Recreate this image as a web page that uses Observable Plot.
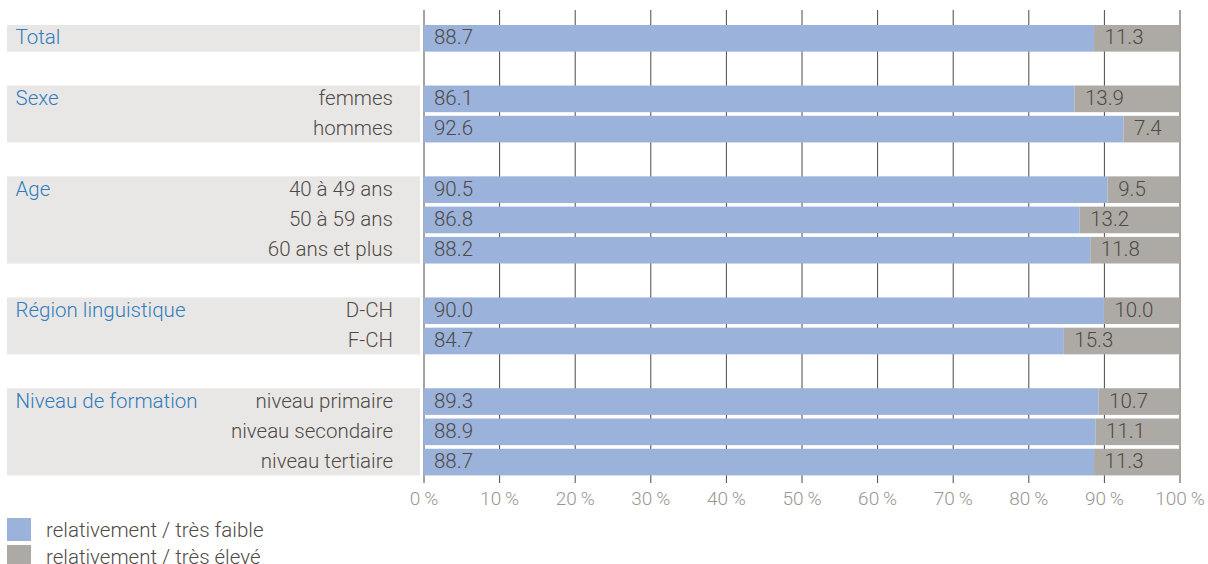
<!DOCTYPE html>
<html>
<head>
<meta charset="utf-8">
<script src="https://cdn.jsdelivr.net/npm/d3@7"></script>
<script src="https://cdn.jsdelivr.net/npm/@observablehq/plot@0.6"></script>
<style>
  html, body { margin: 0; padding: 0; background: #fff; }
  body { width: 1208px; height: 564px; overflow: hidden; font-family: Roboto, "Liberation Sans", sans-serif; font-weight: 300; }
  #legend { margin-top: 8px; }
  .item { display: flex; align-items: center; height: 23px; margin-bottom: 4px; }
  .sw { width: 24px; height: 23px; margin-left: 7px; margin-right: 15px; }
  .lab { font-size: 20.5px; color: #4f4a46; }
</style>
</head>
<body>
<div id="chart"></div>
<div id="legend"></div>
<script>
// ---- data ----
const groups = ["Total", "Sexe", "Age", "Région linguistique", "Niveau de formation"];
const rowKeys = ["Total", "femmes", "hommes", "40 à 49 ans", "50 à 59 ans", "60 ans et plus", "D-CH", "F-CH", "niveau primaire", "niveau secondaire", "niveau tertiaire"];
const rowLabels = ["", "femmes", "hommes", "40 à 49 ans", "50 à 59 ans", "60 ans et plus", "D-CH", "F-CH", "niveau primaire", "niveau secondaire", "niveau tertiaire"];
const rowGroup = ["Total", "Sexe", "Sexe", "Age", "Age", "Age", "Région linguistique", "Région linguistique", "Niveau de formation", "Niveau de formation", "Niveau de formation"];
const lowValues = [88.7, 86.1, 92.6, 90.5, 86.8, 88.2, 90.0, 84.7, 89.3, 88.9, 88.7];
const highValues = [11.3, 13.9, 7.4, 9.5, 13.2, 11.8, 10.0, 15.3, 10.7, 11.1, 11.3];
const seriesNames = ["relativement / très faible", "relativement / très élevé"];
const seriesColors = ["#9bb2db", "#adaaa5"];
const xTicks = [0, 10, 20, 30, 40, 50, 60, 70, 80, 90, 100];

// y domain with empty spacer slots between groups
const yDomain = [];
groups.forEach((g, gi) => {
  if (gi > 0) yDomain.push("gap" + gi);
  rowKeys.forEach((k, i) => { if (rowGroup[i] === g) yDomain.push(k); });
});

const rows = rowKeys.map((k, i) => ({key: k, label: rowLabels[i], group: rowGroup[i], low: lowValues[i], high: highValues[i]}));
const segs = [];
rows.forEach(r => {
  segs.push({key: r.key, series: seriesNames[0], start: 0, value: r.low});
  segs.push({key: r.key, series: seriesNames[1], start: r.low, value: r.high});
});
const groupRows = groups.map(g => {
  const members = rows.filter(r => r.group === g);
  return {group: g, first: members[0].key, last: members[members.length - 1].key};
});

const panelColor = "#e9e7e5";
const textColor = "#4f4a46";
const blue = "#2f7cc0";

function panels(index, scales, values, dimensions) {
  const y = scales.y;
  const bw = y.bandwidth ? y.bandwidth() : (scales.scales && scales.scales.y.bandwidth);
  const g = d3.create("svg:g");
  groupRows.forEach(gr => {
    g.append("rect")
      .attr("x", 7)
      .attr("width", dimensions.marginLeft - 3.5 - 7)
      .attr("y", y(gr.first))
      .attr("height", y(gr.last) + bw - y(gr.first))
      .attr("fill", panelColor);
  });
  return g.node();
}

const chart = Plot.plot({
  width: 1208,
  height: 510,
  marginLeft: 423.5,
  marginRight: 28.5,
  marginTop: 10,
  marginBottom: 27,
  style: {fontFamily: "Roboto, 'Liberation Sans', sans-serif", fontWeight: 300, fontSize: "20px", background: "transparent"},
  x: {domain: [0, 100], axis: null},
  y: {domain: yDomain, paddingInner: 0.12, paddingOuter: 0.373, align: 0.664, round: false, axis: null},
  color: {domain: seriesNames, range: seriesColors},
  marks: [
    panels,
    Plot.ruleX(xTicks, {x: d => d, stroke: "#4d4843", strokeWidth: 1}),
    Plot.barX(segs, {y: "key", x1: "start", x2: d => d.start + d.value, fill: "series"}),
    Plot.text(segs, {y: "key", x: "start", text: d => d.value.toFixed(1), textAnchor: "start", dx: 10, dy: -1, fill: textColor, fontSize: 20.5}),
    Plot.text(rows, {y: "key", text: "label", frameAnchor: "left", textAnchor: "end", dx: -31, dy: -1, fill: textColor, fontSize: 20.5}),
    Plot.text(groupRows, {y: "first", text: "group", frameAnchor: "left", textAnchor: "start", dx: -408.5, dy: -1, fill: blue, fontSize: 20.5}),
    Plot.axisX(xTicks, {tickSize: 0, tickPadding: 8, tickFormat: d => d + "\u2009%", fill: "#9a9693", fontSize: 19, label: null})
  ]
});
document.getElementById("chart").appendChild(chart);

const legend = d3.select("#legend");
seriesNames.forEach((s, i) => {
  const it = legend.append("div").attr("class", "item");
  it.append("div").attr("class", "sw").style("background", seriesColors[i]);
  it.append("div").attr("class", "lab").text(s);
});
</script>
</body>
</html>
